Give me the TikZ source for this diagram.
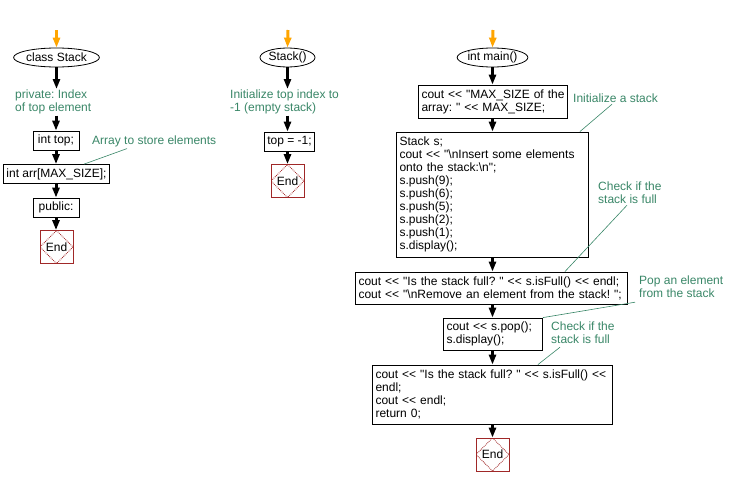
\documentclass[tikz,border=0pt]{standalone}
\usepackage{fontspec}
\setmainfont{Liberation Sans}[Ligatures=TeXOff]
\usetikzlibrary{positioning,shapes.geometric,arrows.meta,calc}

\definecolor{notegreen}{RGB}{58,135,104}
\definecolor{endred}{RGB}{160,40,40}
\definecolor{startorange}{RGB}{255,165,0}

\begin{document}
\frenchspacing
\begin{tikzpicture}[x=1pt, y=-1pt,
  every node/.style={font=\fontsize{12}{13}\selectfont},
  term/.style={ellipse, draw, line width=0.8pt, inner sep=0pt, minimum height=19pt},
  code/.style={draw, line width=0.8pt, align=left, inner sep=3pt, minimum height=19pt},
  note/.style={text=notegreen, align=left, inner sep=1pt, anchor=north west},
  stop/.style={draw=endred, line width=0.8pt, minimum size=33pt, inner sep=0pt,
    path picture={\draw[endred, densely dotted]
      (path picture bounding box.north) -- (path picture bounding box.east) --
      (path picture bounding box.south) -- (path picture bounding box.west) -- cycle;}},
  flow/.style={-{Triangle[length=10pt,width=7pt]}, line width=3pt},
  begin/.style={flow, startorange},
  remark/.style={notegreen, line width=0.6pt}]
  \useasboundingbox[fill=white] (0,0) rectangle (739,485);

  % class Stack
  \coordinate (s1) at (56.5,30);
  \node[term, minimum width=79pt] (cls) at (56.5,57.5) {class Stack};
  \node[note] (cmt1) at (14,89) {private: Index\\of top element};
  \node[code, minimum width=46pt] (top) at (56,140.5) {int top;};
  \node[note] (arrc) at (91,135) {Array to store elements};
  \node[code, minimum width=105pt] (arr) at (56.5,174) {int arr[MAX\_SIZE];};
  \node[code, minimum width=46pt] (pub) at (56,207.5) {public:};
  \node[stop] (end1) at (56.5,247) {End};
  \draw[begin] (s1) -- (cls.north);
  \draw[flow] (cls.south) -- (cls.south |- cmt1.north);
  \draw[flow] (top.north |- cmt1.south) -- (top.north);
  \draw[flow] (top.south) -- (arr.north -| top.south);
  \draw[flow] (arr.south -| pub.north) -- (pub.north);
  \draw[flow] (pub.south) -- (end1.north -| pub.south);
  \draw[remark] ($(arrc.south west)+(36,0)$) -- ($(arr.north west)+(81,0)$);

  % Stack()
  \coordinate (s2) at (288,30);
  \node[term, minimum width=55pt] (ctor) at (287.5,57.5) {Stack()};
  \node[note] (cmt2) at (229,89) {Initialize top index to\\-1 (empty stack)};
  \node[code, minimum width=49pt] (set) at (289.5,141.5) {top = -1;};
  \node[stop] (end2) at (287.5,181) {End};
  \draw[begin] (s2) -- (ctor.north);
  \draw[flow] (ctor.south) -- (ctor.south |- cmt2.north);
  \draw[flow] (ctor.south |- cmt2.south) -- (ctor.south |- set.north);
  \draw[flow] (ctor.south |- set.south) -- (end2.north);

  % int main()
  \coordinate (s3) at (493,30);
  \node[term, minimum width=67pt] (main) at (492.5,57.5) {int main()};
  \node[code, text width=143pt, minimum height=33pt] (msz) at (493,101.5)
    {cout << "MAX\_SIZE of the\\array: " << MAX\_SIZE;};
  \node[code, text width=186pt, minimum height=125pt] (stk) at (492.5,194.5)
    {Stack s;\\cout << "\textbackslash nInsert some elements\\onto the stack:\textbackslash n";\\s.push(9);\\s.push(6);\\s.push(5);\\s.push(2);\\s.push(1);\\s.display();};
  \node[code, text width=266pt, minimum height=32pt] (full) at (491.5,288)
    {cout << "Is the stack full? " << s.isFull() << endl;\\cout << "\textbackslash nRemove an element from the stack! ";};
  \node[code, text width=93pt, minimum height=32pt] (popb) at (493,334)
    {cout << s.pop();\\s.display();};
  \node[code, text width=234pt, minimum height=59pt] (last) at (492.5,394.5)
    {cout << "Is the stack full? " << s.isFull() <<\\endl;\\cout << endl;\\return 0;};
  \node[stop] (end3) at (492.5,454.5) {End};
  \node[note] (initc) at (572,93) {Initialize a stack};
  \node[note] (chk1) at (597,181) {Check if the\\stack is full};
  \node[note] (popc) at (638,275) {Pop an element\\from the stack};
  \node[note] (chk2) at (550,321) {Check if the\\stack is full};
  \draw[begin] (s3) -- (main.north);
  \draw[flow] (main.south) -- (main.south |- msz.north);
  \draw[flow] (main.south |- msz.south) -- (main.south |- stk.north);
  \draw[flow] (main.south |- stk.south) -- (main.south |- full.north);
  \draw[flow] (main.south |- full.south) -- (main.south |- popb.north);
  \draw[flow] (main.south |- popb.south) -- (main.south |- last.north);
  \draw[flow] (main.south |- last.south) -- (end3.north);
  \draw[remark] ($(initc.south west)+(40,0)$) -- ($(stk.north east)+(-9,0)$);
  \draw[remark] ($(chk1.south west)+(30,0)$) -- ($(full.north east)+(-63,0)$);
  \draw[remark] ($(popc.south west)+(-3,3)$) -- (popb.north east);
  \draw[remark] ($(chk2.south west)+(10,2)$) -- ($(last.north east)+(-75,0)$);
\end{tikzpicture}
\end{document}
